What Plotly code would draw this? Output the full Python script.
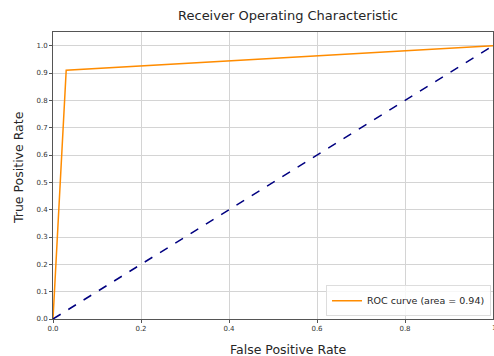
import plotly.graph_objects as go

# ROC curve points
fpr = [0.0, 0.03, 1.0]
tpr = [0.0, 0.91, 1.0]
roc_auc = 0.94

# chance line
chance_x = [0.0, 1.0]
chance_y = [0.0, 1.0]

x_ticks = [0.0, 0.2, 0.4, 0.6, 0.8]
y_ticks = [0.0, 0.1, 0.2, 0.3, 0.4, 0.5, 0.6, 0.7, 0.8, 0.9, 1.0]

font_family = "DejaVu Sans"
text_color = "#262626"

fig = go.Figure()
fig.add_trace(go.Scatter(
    x=fpr, y=tpr, mode="lines",
    line=dict(color="darkorange", width=1.5),
    name=f"ROC curve (area = {roc_auc:.2f})",
))
fig.add_trace(go.Scatter(
    x=chance_x, y=chance_y, mode="lines",
    line=dict(color="navy", width=1.5, dash="dash"),
    showlegend=False,
))

axis_common = dict(
    showgrid=True, gridcolor="#d4d4d4", gridwidth=1,
    showline=True, linecolor="#555555", linewidth=1, mirror=True,
    zeroline=False, ticks="outside", ticklen=3, tickcolor="#555555",
    tickfont=dict(family=font_family, size=7, color="#333333"),
)

fig.update_layout(
    width=494, height=356,
    margin=dict(l=53, r=1, t=32, b=37),
    paper_bgcolor="white", plot_bgcolor="white",
    title=dict(text="Receiver Operating Characteristic", x=288 / 494, xanchor="center",
               y=1 - 15 / 356, yanchor="middle",
               font=dict(family=font_family, size=13, color=text_color)),
    xaxis=dict(range=[0, 1], tickvals=x_ticks, ticktext=[f"{v:.1f}" for v in x_ticks],
               **axis_common),
    yaxis=dict(range=[0, 1.05], tickvals=y_ticks, ticktext=[f"{v:.1f}" for v in y_ticks],
               **axis_common),
    legend=dict(x=0.9955, y=0.01, xanchor="right", yanchor="bottom",
                itemwidth=30,
                bgcolor="rgba(255,255,255,0.8)", bordercolor="#dddddd", borderwidth=1,
                font=dict(family=font_family, size=9.5, color=text_color)),
    showlegend=True,
)

# axis titles and the last x tick label at the right edge
fig.add_annotation(text="False Positive Rate", xref="paper", yref="paper",
                   x=(288 - 53) / 440, y=-(349 - 319) / 287, xanchor="center", yanchor="middle",
                   showarrow=False, font=dict(family=font_family, size=12.5, color=text_color))
fig.add_annotation(text="True Positive Rate", xref="paper", yref="paper",
                   x=-(53 - 18) / 440, y=(319 - 168) / 287, xanchor="center", yanchor="middle",
                   textangle=-90, showarrow=False,
                   font=dict(family=font_family, size=12.5, color=text_color))
fig.add_annotation(text="1.0", xref="x", yref="paper", x=1.0, y=0, xanchor="center",
                   yanchor="top", yshift=-3, xshift=4, showarrow=False,
                   font=dict(family=font_family, size=7, color="#333333"))

fig.write_html("out.html")
